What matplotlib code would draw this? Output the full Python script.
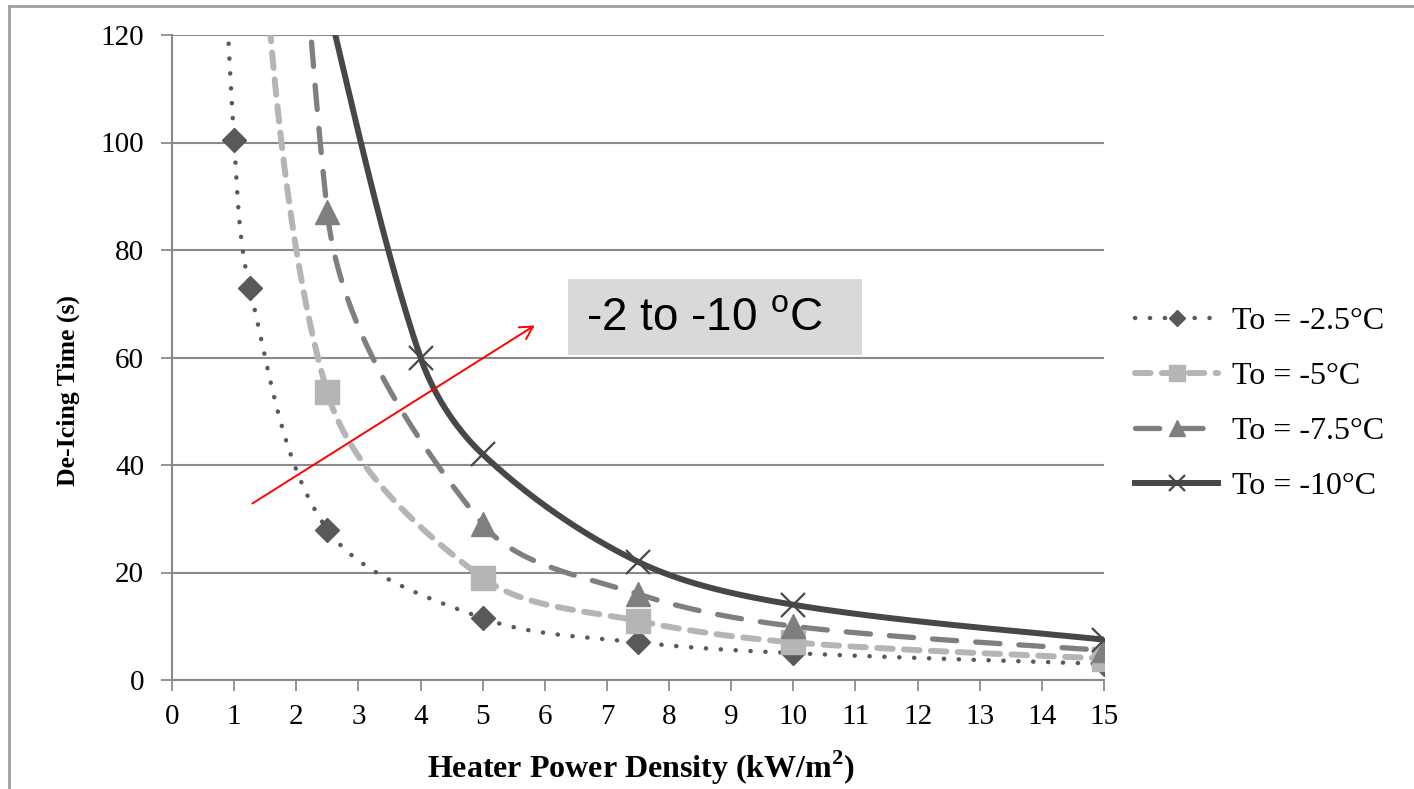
import numpy as np
import matplotlib
matplotlib.use("Agg")
import matplotlib.pyplot as plt
from matplotlib.lines import Line2D
from matplotlib.patches import Rectangle, FancyArrowPatch

# ---- data (points above 120 lie outside the plotted range, as in the source) ----
x_m25 = [0.75, 1, 1.25, 2.5, 5, 7.5, 10, 15]
y_m25 = [160, 100.5, 73, 28, 11.5, 7, 5, 3]
x_m5 = [1.25, 2.5, 5, 7.5, 10, 15]
y_m5 = [166, 53.5, 19, 11, 7, 4]
x_m75 = [1.5, 2.5, 5, 7.5, 10, 15]
y_m75 = [400, 87, 29, 16, 10, 5.5]
x_m10 = [2.5, 4, 5, 7.5, 10, 15]
y_m10 = [126, 60, 42, 22, 14, 7.5]
labels = ["To = -2.5\u00b0C", "To = -5\u00b0C", "To = -7.5\u00b0C", "To = -10\u00b0C"]
x_ticks = list(range(0, 16))
y_ticks = [0, 20, 40, 60, 80, 100, 120]
annot_text = r"-2 to -10 $^\mathregular{o}$C"

W, H = 1414, 789
SX, SY = 932 / 15, 645 / 120


def smooth(xs, ys, n=80):
    """Bezier smoothing with chord-length scaled control arms (spreadsheet-like)."""
    P = np.column_stack([xs, ys]).astype(float)
    S = np.array([SX, SY])
    out = []
    for i in range(len(P) - 1):
        p1, p2 = P[i], P[i + 1]
        d12 = np.linalg.norm((p2 - p1) * S)
        if i > 0:
            p0 = P[i - 1]
            d01 = np.linalg.norm((p1 - p0) * S)
            c1 = p1 + (p2 - p0) * d12 / (d01 + d12) / 3.0
        else:
            c1 = p1 + (p2 - p1) / 6.0
        if i + 2 < len(P):
            p3 = P[i + 2]
            d23 = np.linalg.norm((p3 - p2) * S)
            c2 = p2 - (p3 - p1) * d12 / (d12 + d23) / 3.0
        else:
            c2 = p2 - (p2 - p1) / 6.0
        t = np.linspace(0, 1, n)[:, None]
        b = ((1 - t) ** 3) * p1 + 3 * ((1 - t) ** 2) * t * c1 + 3 * (1 - t) * t ** 2 * c2 + t ** 3 * p2
        out.append(b if i == 0 else b[1:])
    B = np.vstack(out)
    return B[:, 0], B[:, 1]


fig = plt.figure(figsize=(W / 100, H / 100), dpi=100)
ax = fig.add_axes([172 / W, 1 - 680 / H, (1104 - 172) / W, (680 - 35) / H])

series = [
    (x_m25, y_m25, dict(color="#595959", lw=3.2, ls=(0, (0.05, 3.3)), dash_capstyle="round"),
     dict(marker="D", ms=12.5, color="#595959")),
    (x_m5, y_m5, dict(color="#b5b5b5", lw=4.3, ls=(0, (2.6, 1.9)), dash_capstyle="round"),
     dict(marker="s", ms=17, color="#b5b5b5")),
    (x_m75, y_m75, dict(color="#7f7f7f", lw=3.8, ls=(0, (4.6, 3.6)), dash_capstyle="round"),
     dict(marker="^", ms=17, color="#7f7f7f")),
    (x_m10, y_m10, dict(color="#474747", lw=4.3, ls="-"),
     dict(marker="x", ms=17, color="#474747", mew=1.6)),
]

handles = []
for (xs, ys, lst, mst), lab in zip(series, labels):
    sx, sy = smooth(xs, ys)
    ax.plot(sx, sy, zorder=3, **lst)
    ax.plot(xs, ys, ls="none", marker=mst["marker"], ms=mst["ms"], color=mst["color"],
            mew=mst.get("mew", 1.0), zorder=4)
    handles.append(Line2D([], [], marker=mst["marker"], ms=mst["ms"] * 0.68,
                          mew=mst.get("mew", 1.0), **lst))

ax.set_xlim(0, 15)
ax.set_ylim(0, 120)
ax.set_xticks(x_ticks)
ax.set_yticks(y_ticks)
ax.yaxis.grid(True, color="#8a8a8a", lw=1.5)
ax.set_axisbelow(True)
for s in ["top", "right"]:
    ax.spines[s].set_visible(False)
for s in ["left", "bottom"]:
    ax.spines[s].set_color("#8a8a8a")
    ax.spines[s].set_linewidth(1.5)
ax.tick_params(axis="both", direction="out", length=8, width=1.3, color="#8a8a8a",
               labelsize=21)
ax.tick_params(axis="x", pad=9)
ax.tick_params(axis="y", pad=12)
for lab in ax.get_xticklabels() + ax.get_yticklabels():
    lab.set_fontfamily("Liberation Serif")

ax.set_xlabel("Heater Power Density (kW/m$^\\mathregular{2}$)", fontsize=23,
              fontweight="bold", family="Liberation Serif")
ax.xaxis.set_label_coords((641 - 172) / 932, -(768 - 680) / 645)
ax.xaxis.label.set_va("center")
ax.set_ylabel("De-Icing Time (s)", fontsize=18.5, fontweight="bold",
              family="Liberation Serif")
ax.yaxis.set_label_coords(-(172 - 68) / 932, (680 - 390) / 645)
ax.yaxis.label.set_va("center")

fig.legend(handles=handles, labels=labels, loc="center left",
           bbox_to_anchor=(1135 / W, 1 - 404 / H), frameon=False,
           prop={"family": "Liberation Serif", "size": 23},
           handlelength=2.6, labelspacing=0.8, handletextpad=0.45,
           borderpad=0, borderaxespad=0)

# annotation box and arrow
fig.patches.append(Rectangle((568 / W, 1 - 355 / H), (862 - 568) / W, (355 - 279) / H,
                             transform=fig.transFigure, facecolor="#d9d9d9",
                             edgecolor="none", zorder=5))
fig.text(586 / W, 1 - 318 / H, annot_text, family="Liberation Sans", fontsize=33,
         va="center", ha="left", zorder=6)
arrow = FancyArrowPatch((250 / W, 1 - 505 / H), (537 / W, 1 - 324 / H),
                        transform=fig.transFigure, arrowstyle="->,head_length=9,head_width=5",
                        color="#ff0000", lw=1.4, zorder=6)
fig.patches.append(arrow)

# outer frame (partially visible)
fig.add_artist(Line2D([9 / W, 9 / W], [0, 1 - 6 / H], transform=fig.transFigure,
                      color="#a0a0a0", lw=2))
fig.add_artist(Line2D([9 / W, 1], [1 - 6 / H, 1 - 6 / H], transform=fig.transFigure,
                      color="#a0a0a0", lw=2))

fig.savefig("out.png", dpi=100)
